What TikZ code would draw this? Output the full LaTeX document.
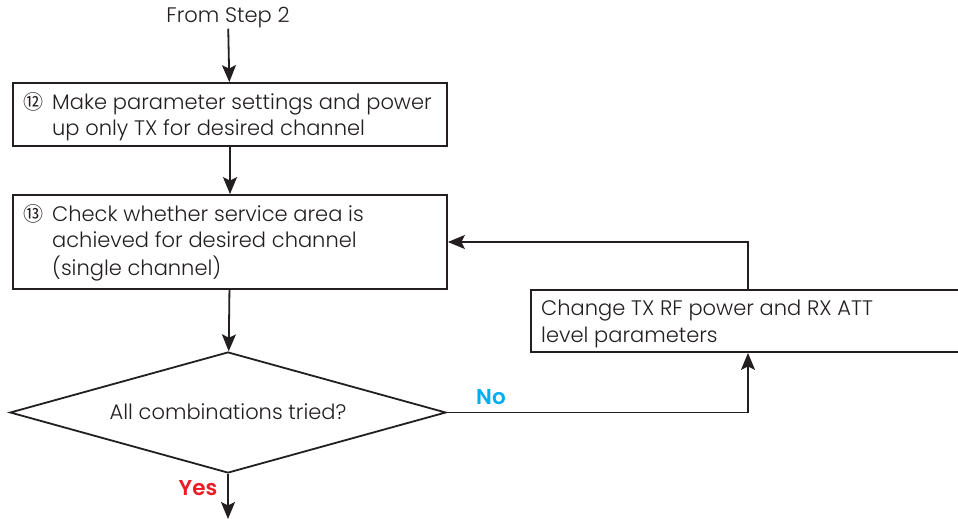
\documentclass[tikz,border=0pt]{standalone}
\usepackage{fontspec}
\setmainfont{Poppins}[UprightFont=* Light, BoldFont=* SemiBold]
\newfontfamily\symfont{Noto Sans CJK JP}
\usetikzlibrary{shapes.geometric,arrows.meta}
\definecolor{ink}{HTML}{231F20}
\definecolor{nocol}{HTML}{00AEEF}
\definecolor{yescol}{HTML}{ED1C24}
\begin{document}
\begin{tikzpicture}[x=1pt,y=-1pt,
  font=\fontsize{21}{26.5}\selectfont, text=ink,
  box/.style={draw=ink, line width=1.8pt, minimum width=434pt, inner sep=0pt},
  txt/.style={anchor=west, inner sep=0pt, align=left},
  conn/.style={draw=ink, line width=1.8pt, -{Stealth[length=17pt,width=14pt,inset=3.5pt]}},
  lab/.style={font=\fontsize{21.5}{22}\selectfont\bfseries, inner sep=0pt}]
\useasboundingbox (0,0) rectangle (958,519);
\clip (0,0) rectangle (958,519);
\fill[white] (0,0) rectangle (958,519);

\node[inner sep=0pt] (s) at (228,18) {From Step 2};

\node[box, minimum height=63pt] (b1) at (230,114.5) {};
\node[txt] (t1) at (23,117) {\begin{tabular}{@{}l@{\hspace{9pt}}l@{}}
 {\symfont\fontsize{20}{20}\selectfont ⑫} & Make parameter settings and power\\
 & up only TX for desired channel\end{tabular}};

\node[box, minimum height=94pt] (b2) at (230,242) {};
\node[txt] (t2) at (23,243) {\begin{tabular}{@{}l@{\hspace{9pt}}l@{}}
 {\symfont\fontsize{20}{20}\selectfont ⑬} & Check whether service area is\\
 & achieved for desired channel\\
 & (single channel)\end{tabular}};

\node[box, minimum height=62pt] (b3) at (748,321) {};
\node[txt] (t3) at (541,324) {Change TX RF power and RX ATT\\level parameters};

\node[draw=ink, line width=1.8pt, diamond, minimum width=436pt, minimum height=121pt, inner sep=0pt] (d) at (228,412.5) {};
\node[inner sep=0pt] (dt) at (228,412) {All combinations tried?};

\coordinate (end) at (228,519);

\draw[conn] (s) -- (b1);
\draw[conn] (b1) -- (b2);
\draw[conn] (b2) -- (d);
\draw[conn] (d.south) -- (end);
\draw[conn] (d.east) -| (b3.south);
\draw[conn] (b3.north) |- (b2.east);

\node[lab, text=nocol] (no) at (491,397) {No};
\node[lab, text=yescol] (yes) at (198,488) {Yes};
\end{tikzpicture}
\end{document}
